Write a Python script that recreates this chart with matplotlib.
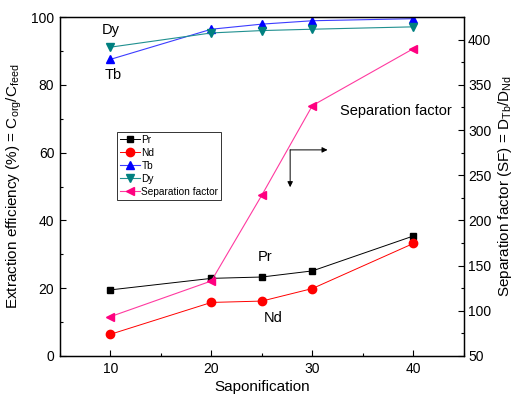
import matplotlib
matplotlib.use("Agg")
import matplotlib.pyplot as plt
from matplotlib.ticker import MultipleLocator

plt.rcParams['font.family'] = ['Liberation Sans', 'DejaVu Sans']
plt.rcParams['mathtext.default'] = 'regular'

saponification = [10, 20, 25, 30, 40]
pr = [19.5, 22.9, 23.3, 25.1, 35.4]
nd = [6.4, 15.8, 16.2, 19.9, 33.2]
tb = [87.5, 96.4, 97.9, 98.9, 99.5]
dy = [91.1, 95.3, 96.0, 96.4, 97.1]
sep_factor = [93.5, 133, 228, 327, 390]

fig = plt.figure(figsize=(5.16, 4.05), dpi=100)
ax = fig.add_axes([0.116, 0.121, 0.783, 0.837])
ax2 = ax.twinx()

l_pr, = ax.plot(saponification, pr, '-s', color='black', lw=0.7, ms=5, label='Pr')
l_nd, = ax.plot(saponification, nd, '-o', color='red', lw=0.7, ms=6, label='Nd')
l_tb, = ax.plot(saponification, tb, '-^', color='#3c3cff', mfc='blue', mec='blue', lw=0.8, ms=6, label='Tb')
l_dy, = ax.plot(saponification, dy, '-v', color='#209090', mfc='#008080', mec='#008080', lw=0.8, ms=6, label='Dy')
l_sf, = ax2.plot(saponification, sep_factor, '-<', color='#ff3aa0', mfc='#ff0080', mec='#ff0080', lw=0.8, ms=6, label='Separation factor')

ax.set_xlim(5, 45)
ax.set_ylim(0, 100)
ax2.set_ylim(50, 425)

ax.xaxis.set_major_locator(MultipleLocator(10))
ax.xaxis.set_minor_locator(MultipleLocator(5))
ax.yaxis.set_major_locator(MultipleLocator(20))
ax.yaxis.set_minor_locator(MultipleLocator(10))
ax2.yaxis.set_major_locator(MultipleLocator(50))
ax2.yaxis.set_minor_locator(MultipleLocator(25))

for a in (ax, ax2):
    a.tick_params(which='both', direction='in', labelsize=10, width=0.8)
    a.tick_params(which='major', length=4)
    a.tick_params(which='minor', length=2.5)
    for s in a.spines.values():
        s.set_linewidth(0.9)
ax.tick_params(axis='both', pad=4)
ax2.tick_params(axis='y', pad=3)

ax.set_xlabel('Saponification', fontsize=11, labelpad=3)
ax.set_ylabel('Extraction efficiency (%) = C$_{org}$/C$_{feed}$', fontsize=11, labelpad=5)
ax2.set_ylabel('Separation factor (SF) = D$_{Tb}$/D$_{Nd}$', fontsize=11, labelpad=3)

# series labels next to the curves
ax.text(10, 96.3, 'Dy', fontsize=10.5, ha='center', va='center')
ax.text(10.3, 83.0, 'Tb', fontsize=10.5, ha='center', va='center')
ax.text(25.3, 29.2, 'Pr', fontsize=10.5, ha='center', va='center')
ax.text(26.1, 11.2, 'Nd', fontsize=10.5, ha='center', va='center')
ax.text(32.7, 72.3, 'Separation factor', fontsize=10.5, ha='left', va='center')

# axis pointer arrows
arrow = dict(arrowstyle='-|>', color='black', lw=0.7, mutation_scale=8, shrinkA=0, shrinkB=0)
ax.annotate('', xy=(31.5, 60.8), xytext=(27.8, 60.8), arrowprops=arrow)
ax.annotate('', xy=(27.8, 49.8), xytext=(27.8, 60.8), arrowprops=arrow)

leg = ax2.legend(handles=[l_pr, l_nd, l_tb, l_dy, l_sf], loc='upper left',
                 bbox_to_anchor=(0.226, 0.675), bbox_transform=fig.transFigure,
                 fontsize=7.3, frameon=True, fancybox=False, edgecolor='black',
                 handlelength=2.0, handletextpad=0.15, labelspacing=0.3,
                 borderpad=0.3, borderaxespad=0)
leg.get_frame().set_linewidth(0.7)

fig.savefig('out.png', dpi=100)
